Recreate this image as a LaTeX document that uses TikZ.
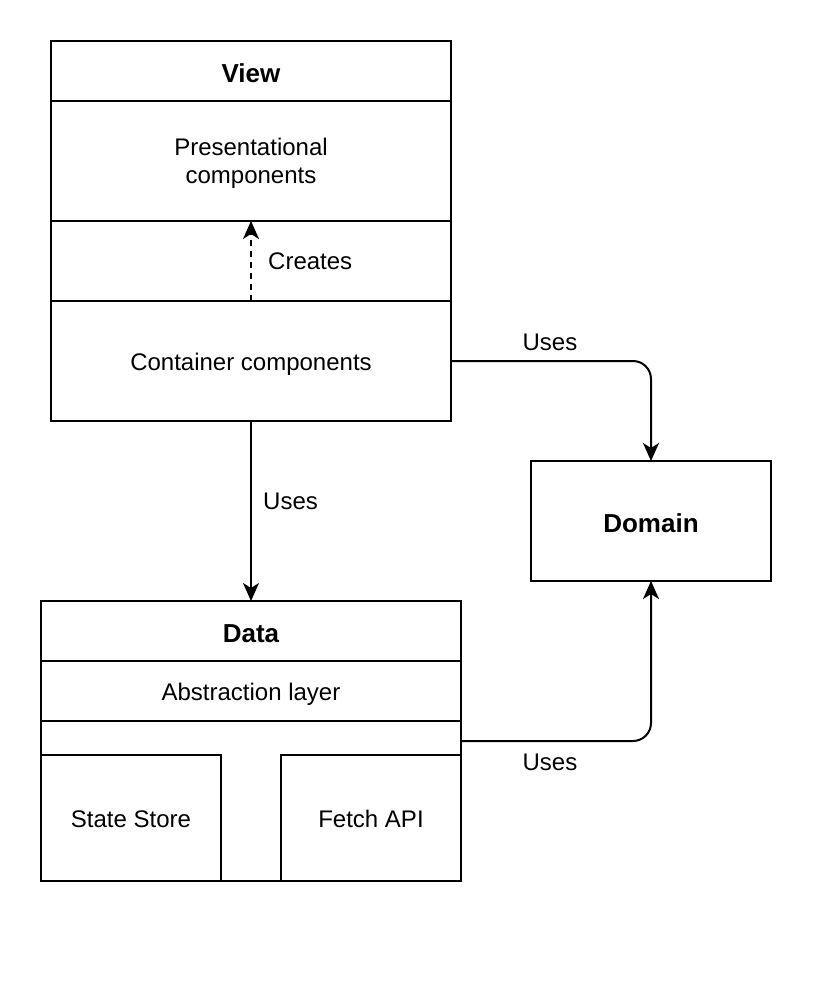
\documentclass[tikz,border=0pt]{standalone}
\usepackage{fontspec}
\setmainfont{Liberation Sans}
\usetikzlibrary{arrows.meta,calc}
\begin{document}
\begin{tikzpicture}[x=1pt,y=-1pt,
  box/.style={draw=black,line width=2pt,rectangle,inner sep=0pt,outer sep=0pt,align=center,
    font=\fontsize{24}{28}\selectfont},
  onel/.style={text height=20pt,text depth=2pt},
  ttl/.style={font=\fontsize{26}{30}\selectfont\bfseries,text height=22pt,text depth=0pt},
  conn/.style={draw=black,line width=2pt,-{Stealth[length=18pt,width=16pt,inset=5pt]}},
  lbl/.style={inner sep=0pt,font=\fontsize{24}{28}\selectfont}
]
\useasboundingbox (0,0) rectangle (812,982);
% View
\node[box,ttl,minimum width=400pt,minimum height=60pt] (viewtitle) at (251,71) {View};
\node[box,minimum width=400pt,minimum height=120pt] (pres) at (251,161) {};
\node[lbl,align=center] (prestext) at (251,163) {Presentational\\components};
\node[box,minimum width=400pt,minimum height=80pt] (creatrow) at (251,261) {};
\node[box,onel,minimum width=400pt,minimum height=120pt] (container) at (251,361) {Container components};
% Domain
\node[box,ttl,minimum width=240pt,minimum height=120pt] (domain) at (651,521) {Domain};
% Data
\node[box,ttl,minimum width=420pt,minimum height=60pt] (datatitle) at (251,631) {Data};
\node[box,onel,minimum width=420pt,minimum height=60pt] (abstr) at (251,691) {Abstraction layer};
\node[box,minimum width=420pt,minimum height=160pt] (datainner) at (251,801) {};
\node[box,onel,minimum width=180pt,minimum height=126pt] (store) at (131,818) {State Store};
\node[box,onel,minimum width=180pt,minimum height=126pt] (fetch) at (371,818) {Fetch API};
\coordinate (dataout) at (461,741);
% connectors
\draw[conn,dash pattern=on 6pt off 5pt] (container.north) -- (pres.south);
\node[lbl,anchor=base west] (lcreates) at (268,269.5) {Creates};
\draw[conn] (container.south) -- (datatitle.north);
\node[lbl,anchor=base west] (luses1) at (263,509.5) {Uses};
\draw[conn,rounded corners=18pt] (container.east) -| (domain.north);
\node[lbl,anchor=base] (luses2) at (550,350.5) {Uses};
\draw[conn,rounded corners=18pt] (dataout) -| (domain.south);
\node[lbl,anchor=base] (luses3) at (550,770) {Uses};
\end{tikzpicture}
\end{document}
